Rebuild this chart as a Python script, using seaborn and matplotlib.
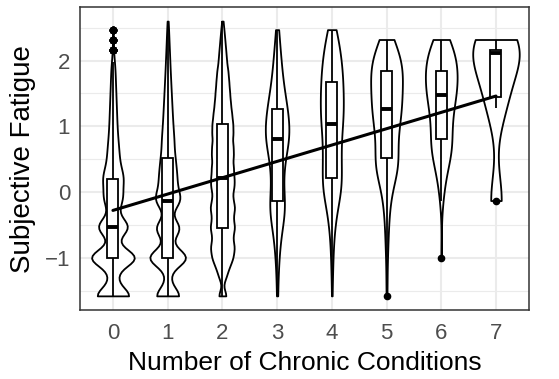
import numpy as np
import pandas as pd
import matplotlib
matplotlib.use("Agg")
import matplotlib.pyplot as plt
import seaborn as sns
from matplotlib.ticker import MultipleLocator

# ---------------- data ----------------
conditions = [0, 1, 2, 3, 4, 5, 6, 7]
tick_labels = ["0", "1", "2", "3", "4", "5", "6", "7"]

# fatigue levels and how many observations sit at each level, per group
g0_values = [-1.58, -1.29, -1.0, -0.76, -0.53, -0.3, -0.13, 0.02, 0.2, 0.35, 0.5, 0.65,
             0.8, 0.95, 1.1, 1.25, 1.4, 1.55, 1.7, 1.85, 1.98, 2.16, 2.32, 2.47]
g0_counts = [740, 150, 1000, 80, 650, 100, 260, 220, 300, 175, 142, 134,
             111, 95, 87, 79, 71, 63, 55, 47, 32, 15, 10, 8]

g1_values = [-1.58, -1.29, -1.0, -0.76, -0.55, -0.35, -0.13, 0.05, 0.2, 0.35, 0.52, 0.7,
             0.85, 1.0, 1.15, 1.3, 1.45, 1.6, 1.75, 1.9, 2.05, 2.2, 2.35, 2.5, 2.6]
g1_counts = [620, 100, 1000, 80, 600, 60, 550, 262, 250, 245, 240, 187,
             162, 142, 128, 115, 102, 89, 77, 64, 55, 43, 34, 21, 9]

g2_values = [-1.58, -1.28, -1.13, -0.99, -0.84, -0.69, -0.54, -0.39, -0.24, -0.09,
             0.07, 0.22, 0.38, 0.55, 0.71, 0.88, 1.04, 1.2, 1.36, 1.52, 1.68, 1.84, 2.0,
             2.15, 2.3, 2.45, 2.6]
g2_counts = [60, 50, 80, 125, 145, 115, 150, 120, 150, 120,
             140, 140, 140, 140, 135, 135, 130, 115, 100, 90, 80, 70, 50,
             40, 30, 20, 8]

g3_values = [-1.58, -1.26, -1.0, -0.75, -0.5, -0.3, -0.14, 0.1, 0.33, 0.55, 0.8, 1.04,
             1.27, 1.5, 1.75, 2.0, 2.25, 2.47]
g3_counts = [2, 2, 4, 6, 10, 12, 14, 10, 12, 14, 28, 22, 20, 14, 11, 8, 5, 3]

g4_values = [-1.58, -1.2, -0.9, -0.6, -0.35, -0.1, 0.05, 0.22, 0.4, 0.6, 0.8, 1.04,
             1.25, 1.45, 1.67, 1.9, 2.1, 2.32, 2.47]
g4_counts = [1, 2, 3, 5, 8, 12, 12, 14, 13, 14, 15, 20, 18, 18, 20, 17, 14, 10, 6]

g5_values = [-1.58, -1.26, -0.9, -0.6, -0.3, -0.05, 0.2, 0.36, 0.52, 0.7, 0.9, 1.08,
             1.27, 1.45, 1.65, 1.84, 2.0, 2.16, 2.32]
g5_counts = [1, 1, 2, 3, 4, 6, 9, 12, 12, 10, 12, 14, 16, 16, 17, 17, 14, 10, 8]

g6_values = [-1.0, -0.13, 0.1, 0.3, 0.5, 0.65, 0.8, 1.0, 1.15, 1.3, 1.47, 1.65, 1.84,
             2.0, 2.16, 2.32]
g6_counts = [1, 2, 3, 5, 7, 9, 9, 8, 8, 8, 14, 14, 14, 12, 10, 8]

g7_values = [-0.13, 1.28, 1.62, 2.11, 2.16, 2.32]
g7_counts = [1, 1, 1, 1, 2, 1]

# linear fit line (endpoints at x = 0 and x = 7)
fit_x = [0, 7]
fit_y = [-0.28, 1.46]

group_values = [g0_values, g1_values, g2_values, g3_values,
                g4_values, g5_values, g6_values, g7_values]
group_counts = [g0_counts, g1_counts, g2_counts, g3_counts,
                g4_counts, g5_counts, g6_counts, g7_counts]

frames = []
for k, vals, cnts in zip(conditions, group_values, group_counts):
    frames.append(pd.DataFrame({
        "conditions": np.repeat(k, int(np.sum(cnts))),
        "fatigue": np.repeat(np.asarray(vals, dtype=float), cnts),
    }))
df = pd.concat(frames, ignore_index=True)

# ---------------- styling ----------------
sns.set_style("white")
plt.rcParams["font.family"] = ["Liberation Sans", "DejaVu Sans"]

violin_bw = [0.13, 0.13, 0.09, 0.25, 0.25, 0.25, 0.25, 0.40]
violin_width = [0.78, 0.65, 0.44, 0.43, 0.42, 0.58, 0.58, 0.85]

W, H = 559, 379
fig = plt.figure(figsize=(W / 100, H / 100), dpi=100)
ax = fig.add_axes([80.1 / W, (H - 310) / H, 448.7 / W, 302.7 / H])


def make_bw(h):
    return lambda kde: h / kde.dataset[0].std(ddof=1)


for k, h, w in zip(conditions, violin_bw, violin_width):
    sub = df[df["conditions"] == k]
    sns.violinplot(data=sub, x="conditions", y="fatigue", order=conditions, orient="x",
                   density_norm="width", width=w, cut=0, inner=None,
                   bw_method=make_bw(h), color="white", saturation=1,
                   linecolor="black", linewidth=1.3, ax=ax)

sns.boxplot(data=df, x="conditions", y="fatigue", order=conditions, orient="x",
            width=0.2, color="white", saturation=1, linecolor="black", linewidth=1.3,
            whis=1.5, fliersize=4.5,
            medianprops=dict(color="black", linewidth=2.8),
            whiskerprops=dict(color="black", linewidth=1.3),
            boxprops=dict(facecolor="white", edgecolor="black", linewidth=1.3),
            flierprops=dict(marker="o", markerfacecolor="black",
                            markeredgecolor="black", markersize=4.5),
            capprops=dict(visible=False), ax=ax)

sns.lineplot(x=fit_x, y=fit_y, color="black", linewidth=2.2, ax=ax)

ax.set_xlim(-0.6, 7.6)
ax.set_ylim(-1.795, 2.81)
ax.set_xticks(conditions)
ax.set_xticklabels(tick_labels)
ax.set_yticks([-1, 0, 1, 2])
ax.yaxis.set_minor_locator(MultipleLocator(0.5))
ax.set_axisbelow(True)
ax.grid(True, which="major", color="#EBEBEB", linewidth=1.5)
ax.grid(True, which="minor", axis="y", color="#EBEBEB", linewidth=0.8)
ax.tick_params(axis="both", which="major", length=4, width=1.1, color="#333333",
               labelsize=16, labelcolor="#4D4D4D")
ax.tick_params(axis="x", pad=5.5)
ax.tick_params(axis="y", pad=3.2)
ax.tick_params(which="minor", length=0)
for s in ax.spines.values():
    s.set_visible(True)
    s.set_color("#333333")
    s.set_linewidth(1.1)

ax.set_xlabel("Number of Chronic Conditions", fontsize=19, color="black")
ax.set_ylabel("Subjective Fatigue", fontsize=20, color="black")
ax.xaxis.set_label_coords(0.5, -0.135)
ax.yaxis.set_label_coords(-0.0976, 0.5)

fig.savefig("out.png", dpi=100)
